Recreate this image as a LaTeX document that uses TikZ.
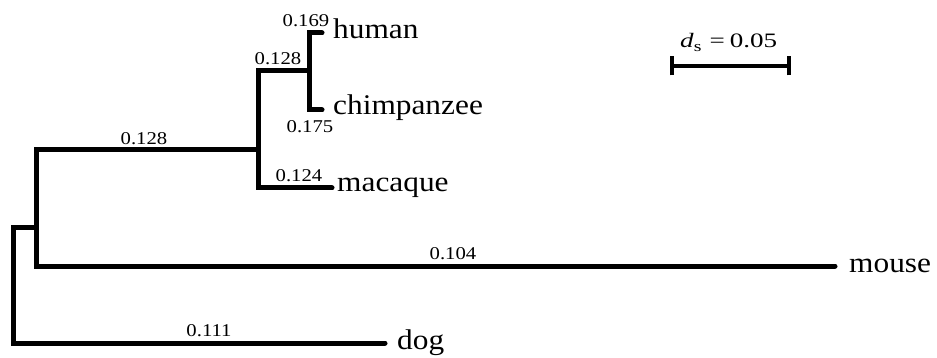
\documentclass[tikz,border=0pt]{standalone}
\usepackage{fontspec}
\setmainfont{Liberation Serif}[FakeStretch=1.1]
\newfontfamily\lenfont{Liberation Serif}[FakeStretch=1.15]
\newfontfamily\barfont{Liberation Serif}[FakeStretch=1.32]
\begin{document}
\begin{tikzpicture}[x=1pt,y=-1pt,
  branch/.style={line width=5pt,line cap=round,line join=miter},
  leaf/.style={anchor=base west,inner sep=0pt,font=\fontsize{28.5}{28.5}\selectfont},
  blen/.style={inner sep=0pt,font=\lenfont\fontsize{18}{18}\selectfont}]
\useasboundingbox (0,0) rectangle (937,358);
% internal nodes
\coordinate (root) at (13,228);
\coordinate (nA) at (36,228);
\coordinate (nP) at (258,150);
\coordinate (nHC) at (309,71);
% tips
\coordinate (th) at (322,33);
\coordinate (tc) at (322,110);
\coordinate (tm) at (332,188);
\coordinate (tmo) at (835,266);
\coordinate (td) at (385,343);
% branches
\draw[branch] (td) -| (root) -- (nA);
\draw[branch] (tmo) -| (nA) |- (nP);
\draw[branch] (tm) -| (nP) |- (nHC);
\draw[branch] (tc) -| (nHC) |- (th);
% leaf labels
\node[leaf] (human) at (333,38.5) {human};
\node[leaf] (chimp) at (333,115) {chimpanzee};
\node[leaf] (macaque) at (337,192) {macaque};
\node[leaf] (mouse) at (849,272) {mouse};
\node[leaf] (dog) at (397,349) {dog};
% branch lengths
\node[blen] (l1) at (306,20.5) {0.169};
\node[blen] (l2) at (278,59) {0.128};
\node[blen] (l3) at (310,127) {0.175};
\node[blen] (l4) at (299,176) {0.124};
\node[blen] (l5) at (144,139) {0.128};
\node[blen] (l6) at (453,254) {0.104};
\node[blen] (l7) at (209,331) {0.111};
% scale bar
\coordinate (s1) at (672,66);
\coordinate (s2) at (789,66);
\draw[line width=4.5pt] (s1) -- (s2);
\draw[line width=4pt] ([yshift=-9.5pt]s1) -- ([yshift=9.5pt]s1);
\draw[line width=4pt] ([yshift=-9.5pt]s2) -- ([yshift=9.5pt]s2);
\node[anchor=base west,inner sep=0pt,font=\barfont\fontsize{20.5}{20.5}\selectfont] (scale) at (680,48)
  {\textit{d}\raisebox{-0.4ex}{\fontsize{15}{15}\selectfont s}\hspace{8pt}=\hspace{5pt}0.05};
\end{tikzpicture}
\end{document}
